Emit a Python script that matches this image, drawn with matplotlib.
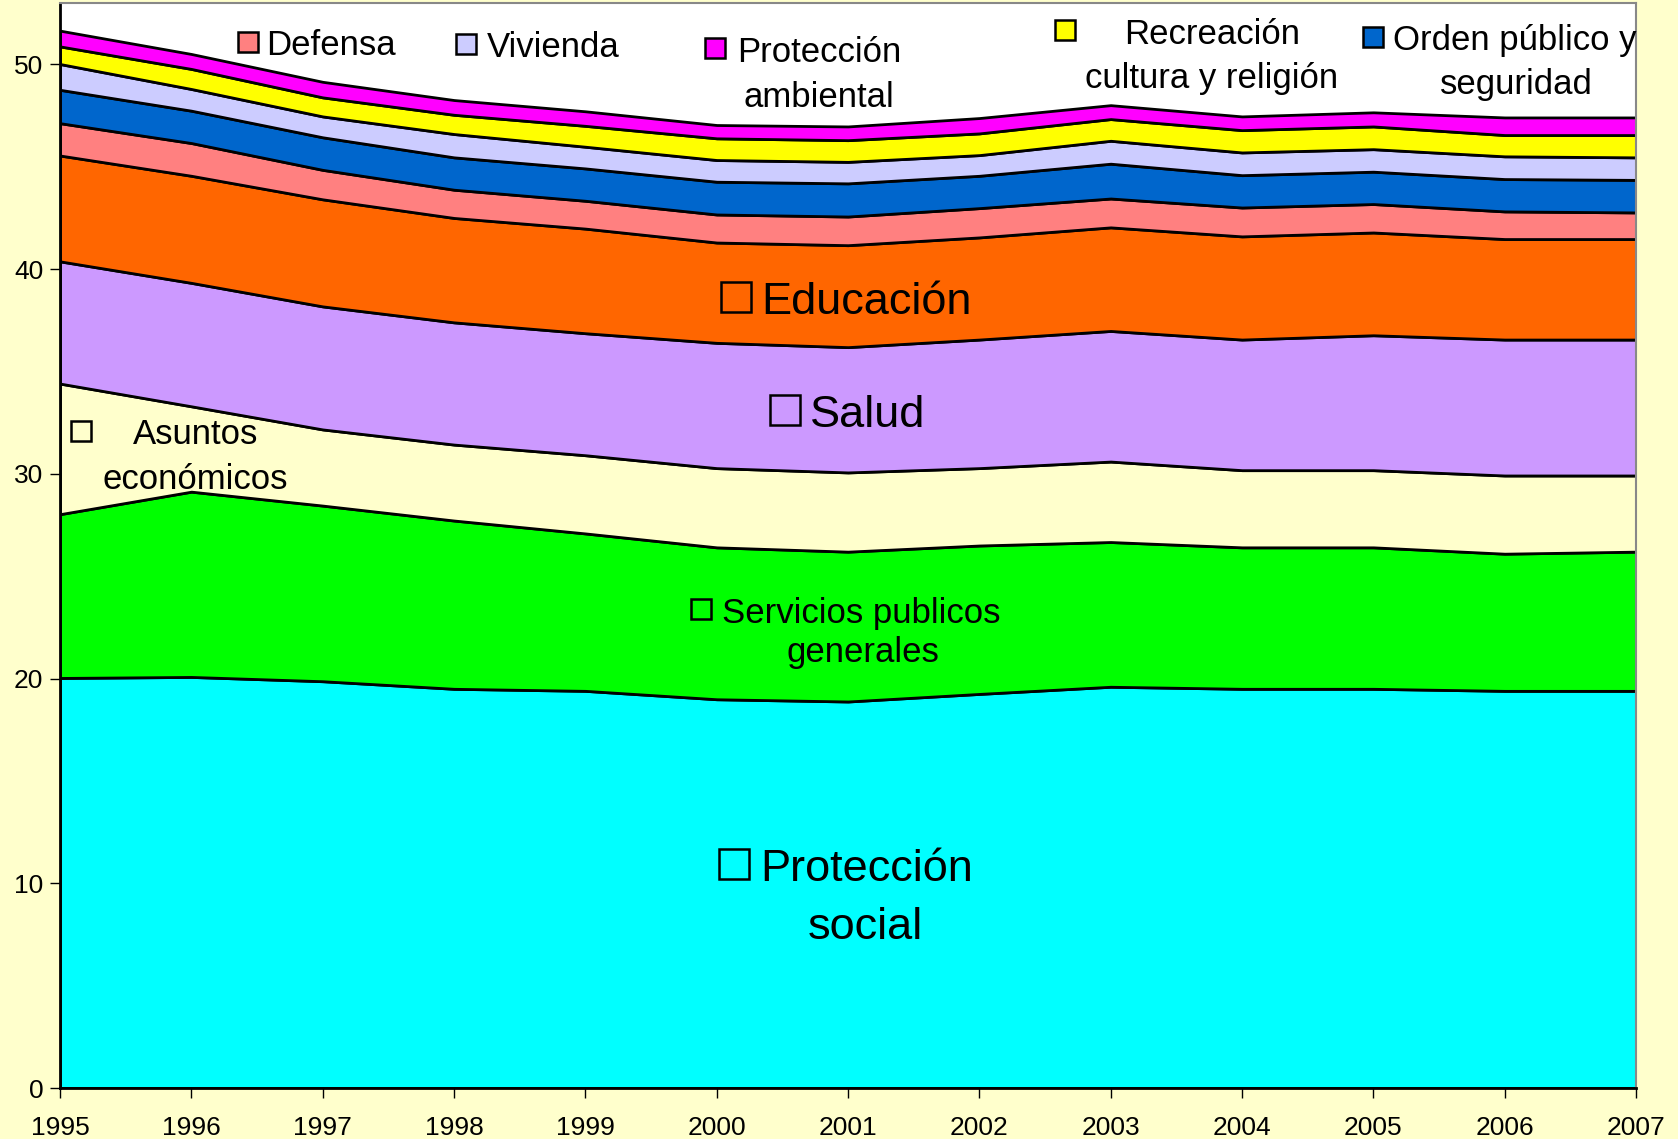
import matplotlib
matplotlib.use("Agg")
import matplotlib.pyplot as plt
import numpy as np

plt.rcParams['font.family'] = ['Liberation Sans', 'DejaVu Sans']

years = [1995, 1996, 1997, 1998, 1999, 2000, 2001, 2002, 2003, 2004, 2005, 2006, 2007]

proteccion_social = [20.03, 20.08, 19.87, 19.50, 19.40, 18.99, 18.88, 19.25, 19.60, 19.50, 19.50, 19.40, 19.40]
servicios_publicos = [8.00, 9.05, 8.58, 8.22, 7.69, 7.42, 7.32, 7.25, 7.07, 6.91, 6.91, 6.70, 6.80]
asuntos_economicos = [6.38, 4.17, 3.72, 3.71, 3.82, 3.87, 3.87, 3.78, 3.93, 3.77, 3.77, 3.82, 3.72]
salud = [5.97, 6.03, 6.01, 5.97, 5.96, 6.12, 6.12, 6.28, 6.38, 6.38, 6.59, 6.64, 6.64]
educacion = [5.17, 5.23, 5.23, 5.10, 5.11, 4.90, 4.98, 4.99, 5.06, 5.04, 5.02, 4.91, 4.91]
defensa = [1.58, 1.60, 1.44, 1.38, 1.36, 1.37, 1.40, 1.43, 1.41, 1.41, 1.39, 1.35, 1.30]
orden_publico = [1.63, 1.58, 1.59, 1.58, 1.58, 1.60, 1.62, 1.58, 1.70, 1.58, 1.58, 1.58, 1.59]
vivienda = [1.26, 1.06, 1.02, 1.14, 1.06, 1.06, 1.05, 1.01, 1.12, 1.11, 1.10, 1.11, 1.10]
recreacion = [0.86, 0.98, 0.93, 0.94, 1.02, 1.06, 1.06, 1.06, 1.06, 1.09, 1.11, 1.04, 1.09]
proteccion_ambiental = [0.77, 0.73, 0.76, 0.72, 0.71, 0.65, 0.67, 0.75, 0.68, 0.67, 0.69, 0.86, 0.86]

series = [proteccion_social, servicios_publicos, asuntos_economicos, salud, educacion,
          defensa, orden_publico, vivienda, recreacion, proteccion_ambiental]
colors = ['#00FFFF', '#00FF00', '#FFFFCC', '#CC99FF', '#FF6600',
          '#FF8080', '#0066CC', '#CCCCFF', '#FFFF00', '#FF00FF']

yticks = [0, 10, 20, 30, 40, 50]

fig = plt.figure(figsize=(16.78, 11.39), dpi=100, facecolor='#FFFFCC')
ax = fig.add_axes([60/1678, 1 - 1088/1139, (1636 - 60)/1678, (1088 - 3)/1139])
ax.set_facecolor('white')

ax.stackplot(years, *series, colors=colors, edgecolor='black', linewidth=2.0)

ax.set_xlim(1995, 2007)
ax.set_ylim(0, 53)
ax.set_xticks(years)
ax.set_xticklabels([str(y) for y in years])
ax.set_yticks(yticks)
ax.tick_params(axis='x', labelsize=19, length=7, width=1, pad=13, colors='black')
ax.tick_params(axis='y', labelsize=19, length=7, width=1, pad=5, colors='black')
for s in ['left', 'bottom']:
    ax.spines[s].set_color('black')
    ax.spines[s].set_linewidth(2)
for s in ['top', 'right']:
    ax.spines[s].set_color('#888888')
    ax.spines[s].set_linewidth(1.5)


def square(x, y, size, fc):
    ax.plot([x], [y], marker='s', markersize=size, markerfacecolor=fc,
            markeredgecolor='black', markeredgewidth=1.8, linestyle='none',
            clip_on=False, zorder=5)


SMALL = 25
BIG = 32.5
ds = 0.19   # text vertical offset (small)
db = 0.27   # text vertical offset (big)

# top labels (legend-like)
square(1996.43, 51.10, 15, '#FF8080')
ax.text(1996.57, 51.10 - ds, 'Defensa', fontsize=SMALL, va='center', ha='left')
square(1998.09, 51.00, 15, '#CCCCFF')
ax.text(1998.25, 51.00 - ds, 'Vivienda', fontsize=SMALL, va='center', ha='left')
square(1999.99, 50.78, 15, '#FF00FF')
ax.text(2000.78, 50.78 - ds, 'Protección', fontsize=SMALL, va='center', ha='center')
ax.text(2000.78, 48.58 - ds, 'ambiental', fontsize=SMALL, va='center', ha='center')
square(2002.65, 51.67, 15, '#FFFF00')
ax.text(2003.77, 51.67 - ds, 'Recreación', fontsize=SMALL, va='center', ha='center')
ax.text(2003.77, 49.48 - ds, 'cultura y religión', fontsize=SMALL, va='center', ha='center')
square(2005.00, 51.36, 15, '#0066CC')
ax.text(2005.15, 51.36 - ds, 'Orden público y', fontsize=SMALL, va='center', ha='left')
ax.text(2006.09, 49.22 - ds, 'seguridad', fontsize=SMALL, va='center', ha='center')

# in-area labels
square(2000.15, 38.65, 21, 'none')
ax.text(2000.34, 38.65 - db, 'Educación', fontsize=BIG, va='center', ha='left')
square(2000.52, 33.10, 21, 'none')
ax.text(2000.71, 33.10 - db, 'Salud', fontsize=BIG, va='center', ha='left')
square(1995.16, 32.11, 15, 'none')
ax.text(1996.03, 32.11 - ds, 'Asuntos', fontsize=SMALL, va='center', ha='center')
ax.text(1996.03, 29.92 - ds, 'económicos', fontsize=SMALL, va='center', ha='center')
square(1999.88, 23.38, 15, 'none')
ax.text(2000.04, 23.38 - ds, 'Servicios publicos', fontsize=SMALL, va='center', ha='left')
ax.text(2001.11, 21.44 - ds, 'generales', fontsize=SMALL, va='center', ha='center')
square(2000.13, 10.93, 21, 'none')
ax.text(2000.33, 10.93 - db, 'Protección', fontsize=BIG, va='center', ha='left')
ax.text(2001.13, 8.11 - db, 'social', fontsize=BIG, va='center', ha='center')

fig.savefig('out.png', dpi=100, facecolor=fig.get_facecolor())
